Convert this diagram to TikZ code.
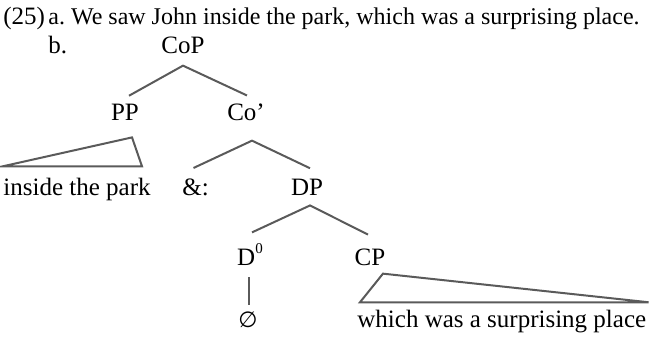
\documentclass[tikz,border=0pt]{standalone}
\usepackage{fontspec}
\setmainfont{Liberation Serif}
\newfontfamily\symfont{DejaVu Sans}
\usetikzlibrary{positioning, calc}
\definecolor{linegray}{HTML}{5A5A5A}

\begin{document}
\begin{tikzpicture}[
    x=0.5pt, y=-0.5pt,
    font=\fontsize{12.5}{15}\selectfont,
    cat/.style={inner sep=0pt, anchor=base},
    leaf/.style={inner sep=0pt, anchor=base west},
    branch/.style={draw=linegray, line width=1pt, line join=miter}
]
\useasboundingbox (0,0) rectangle (660,339);

% Example sentence
\node[leaf] (num) at (3,24) {(25)};
\node[leaf, font=\fontsize{12}{14}\selectfont] (exa) at (48,24)
{a.\ We saw John inside the park, which was a surprising place.};
\node[leaf] (exb) at (48,53) {b.};

% Labels of the tree
\node[cat] (cop) at (183,53) {CoP};
\node[cat] (pp) at (125,120) {PP};
\node[cat] (cobar) at (246,120) {Co’};
\node[leaf] (inside) at (3,195) {inside the park};
\node[cat] (amp) at (195.5,195) {\&:};
\node[cat] (dp) at (307,195) {DP};
\node[cat] (dzero) at (250,265) {D\raisebox{0.45em}{\fontsize{7.5}{8}\selectfont 0}};
\node[cat] (cp) at (370,265) {CP};
\node[cat] (empty) at (248,327) {\symfont\fontsize{11}{14}\selectfont ∅};
\node[leaf] (which) at (357,327) {which was a surprising place};

% Branches
\draw[branch] ([xshift=2pt,yshift=3.75pt]pp.north) -- ([yshift=-6pt]cop.south)
    -- ([xshift=0.5pt,yshift=3.75pt]cobar.north);
\draw[branch] ([xshift=-1pt,yshift=5pt]amp.north) -- ([xshift=3pt,yshift=-10pt]cobar.south)
    -- ([xshift=1.5pt,yshift=5pt]dp.north);
\draw[branch] ([xshift=1pt,yshift=5.5pt]dzero.north) -- ([xshift=1.5pt,yshift=-5pt]dp.south)
    -- ([xshift=-1pt,yshift=6.75pt]cp.north);
\draw[branch] ([xshift=-0.5pt,yshift=-6pt]dzero.south) -- ([xshift=0.5pt,yshift=3pt]empty.north);

% Triangles
\draw[branch] ([xshift=3.5pt,yshift=-8.5pt]pp.south) -- ([yshift=5.5pt]inside.north west)
    -- ([xshift=-4.5pt,yshift=5.5pt]inside.north east) -- cycle;
\draw[branch] ([xshift=6.5pt,yshift=-4pt]cp.south) -- ([xshift=1.5pt,yshift=3.5pt]which.north west)
    -- ([xshift=1pt,yshift=3.5pt]which.north east) -- cycle;

\end{tikzpicture}
\end{document}
